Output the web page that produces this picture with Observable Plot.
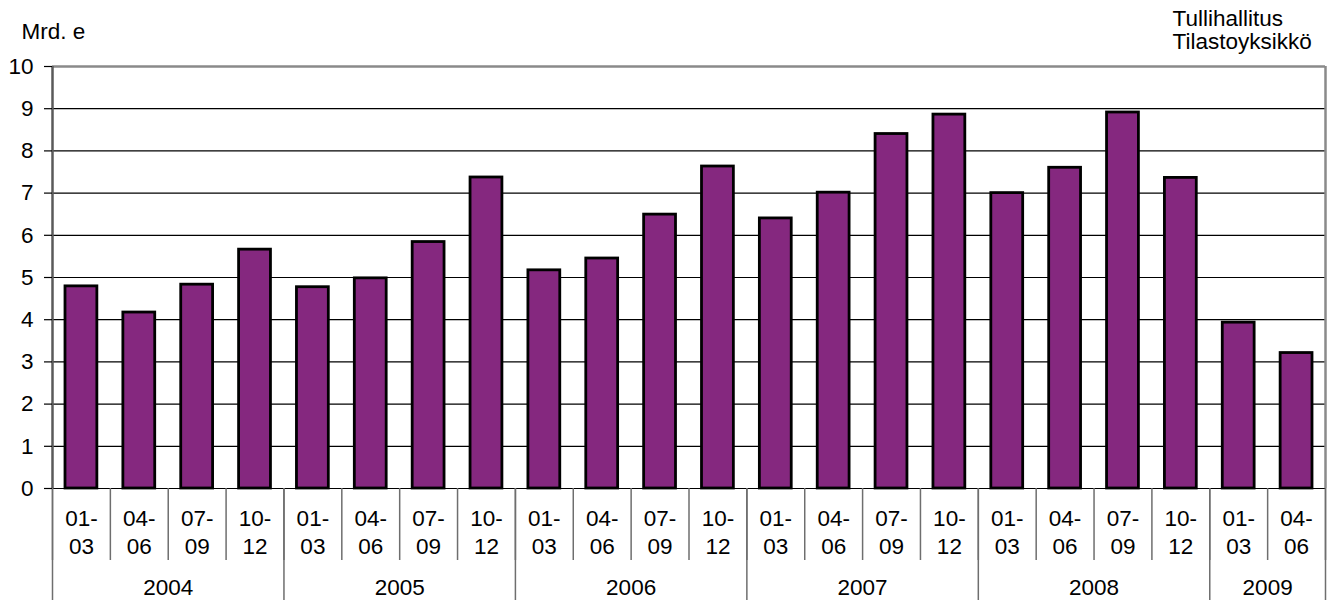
<!DOCTYPE html>
<html>
<head>
<meta charset="utf-8">
<script src="https://cdn.jsdelivr.net/npm/d3@7"></script>
<script src="https://cdn.jsdelivr.net/npm/@observablehq/plot@0.6"></script>
<style>
  html, body { margin: 0; padding: 0; background: #fff; }
  #chart svg { display: block; }
</style>
</head>
<body>
<div id="chart"></div>
<script>
const years = ["2004", "2005", "2006", "2007", "2008", "2009"];
const quarters = ["01-\n03", "04-\n06", "07-\n09", "10-\n12"];
const values = [
  4.79, 4.17, 4.83, 5.66,
  4.77, 4.98, 5.84, 7.37,
  5.17, 5.45, 6.49, 7.63,
  6.40, 7.01, 8.40, 8.86,
  7.00, 7.60, 8.91, 7.36,
  3.93, 3.21
];
const yTicks = [0, 1, 2, 3, 4, 5, 6, 7, 8, 9, 10];
const yUnit = "Mrd. e";
const source = "Tullihallitus\nTilastoyksikkö";

const data = values.map((v, i) => ({i, v, year: years[Math.floor(i / 4)], q: quarters[i % 4]}));
const quarterBounds = d3.range(0, data.length + 1);
const yearGroups = years.map(y => {
  const rows = data.filter(d => d.year === y);
  return {year: y, start: d3.min(rows, d => d.i), end: d3.max(rows, d => d.i) + 1};
});
const yearBounds = yearGroups.map(g => g.start).concat([data.length]);

const font = "'Liberation Sans', Arial, sans-serif";
const fs = 22.5;

const chart = Plot.plot({
  width: 1335,
  height: 600,
  marginLeft: 52,
  marginRight: 10,
  marginTop: 66,
  marginBottom: 112,
  style: {fontFamily: font, fontSize: fs + "px", color: "#000", background: "#fff", overflow: "visible"},
  x: {domain: [0, data.length], axis: null},
  y: {domain: [0, 10], axis: null},
  marks: [
    Plot.ruleY(yTicks.filter(t => t > 0 && t < 10), {stroke: "#000", strokeWidth: 1.2}),
    Plot.ruleY([10], {stroke: "#8a8a8a", strokeWidth: 2.5}),
    Plot.ruleX([data.length], {stroke: "#8a8a8a", strokeWidth: 2.5}),
    Plot.rectY(data, {
      x1: "i", x2: d => d.i + 1, y1: 0, y2: "v",
      insetLeft: 13, insetRight: 13,
      fill: "#85287f", stroke: "#000", strokeWidth: 2.8
    }),
    Plot.ruleY([0], {stroke: "#000", strokeWidth: 1.2}),
    Plot.axisX(quarterBounds, {tickSize: 72, text: null, label: null, stroke: "#6e6e6e", strokeWidth: 1.5}),
    Plot.axisX(yearBounds, {tickSize: 112, text: null, label: null, stroke: "#6e6e6e", strokeWidth: 1.5}),
    Plot.ruleX([0], {stroke: "#5a5a5a", strokeWidth: 2.5}),
    Plot.axisY(yTicks, {tickSize: 8, tickPadding: 11, fontSize: fs, label: null, stroke: "#000", strokeWidth: 1.2}),
    Plot.text(data, {
      x: d => d.i + 0.5, text: "q", frameAnchor: "bottom", lineAnchor: "middle",
      dy: 43, lineHeight: 1.24, fontSize: fs, fill: "#000"
    }),
    Plot.text(yearGroups, {
      x: d => (d.start + d.end) / 2, text: "year", frameAnchor: "bottom", lineAnchor: "middle",
      dy: 99, fontSize: fs, fill: "#000"
    }),
    Plot.text([yUnit], {
      text: d => d, frameAnchor: "top-left", textAnchor: "start", lineAnchor: "top",
      dx: -31, dy: -43, fontSize: fs, fill: "#000"
    }),
    Plot.text([source], {
      text: d => d, frameAnchor: "top-right", textAnchor: "start", lineAnchor: "top",
      dx: -153, dy: -57, lineHeight: 1.03, fontSize: fs, fill: "#000"
    })
  ]
});

document.getElementById("chart").appendChild(chart);
</script>
</body>
</html>
